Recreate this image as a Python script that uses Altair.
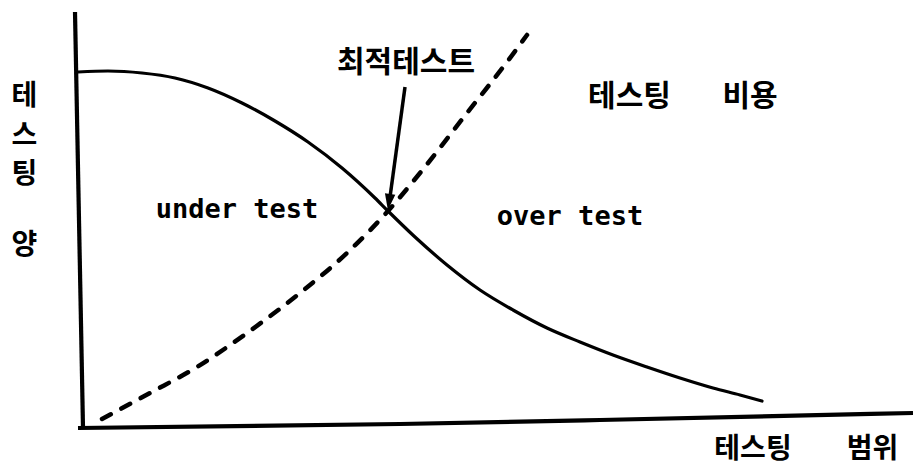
import altair as alt
import pandas as pd

# Conceptual chart: x = testing range, y = testing amount (arbitrary units, origin at axis corner)
solid_x = [-0.25, 3.5, 7.75, 11.875, 16.0, 20.25, 24.375, 28.5, 32.75, 36.875, 38.5,
           41.875, 45.875, 50.0, 54.125, 58.375, 62.5, 66.625, 70.875, 75.0, 79.125, 82.5, 85.25]
solid_y = [88.75, 89.0, 88.5, 87.25, 84.75, 81.0, 76.5, 71.25, 64.75, 57.25, 54.0,
           47.5, 40.5, 34.25, 29.25, 24.75, 21.25, 18.0, 15.0, 12.25, 9.75, 8.0, 6.5]

dash_x = [2.75, 8.75, 14.625, 20.875, 27.5, 33.375, 38.5, 42.5, 48.375, 53.375, 55.875]
dash_y = [2.0, 8.5, 15.0, 23.5, 33.5, 43.5, 54.0, 63.5, 78.5, 91.25, 98.0]

yaxis_x = [-0.625, 0.375]
yaxis_y = [103.75, -0.25]
xaxis_x = [-0.25, 40.0, 65.0, 104.125]
xaxis_y = [-0.25, 0.75, 1.75, 3.5]

arrow_x = [40.625, 38.75]
arrow_y = [85.0, 57.5]
head_x = [38.625]
head_y = [56.25]

kor_labels = ["최적테스트", "테스팅", "비용", "테스팅", "범위", "테", "스", "팅", "양"]
kor_x = [40.75, 68.69, 83.75, 84.125, 99.06, -6.94, -6.94, -6.94, -6.94]
kor_y = [91.1, 82.5, 82.5, -5.75, -5.75, 82.4, 72.5, 63.1, 45.25]
kor_size = [30, 30, 30, 28, 28, 28, 28, 28, 28]

eng_labels = ["under test", "over test"]
eng_x = [19.625, 61.25]
eng_y = [52.25, 50.5]

XD = [-9.0, 104.125]
YD = [-10.0, 104.75]
xs = alt.Scale(domain=XD, nice=False, zero=False)
ys = alt.Scale(domain=YD, nice=False, zero=False)

def line_df(xv, yv):
    return pd.DataFrame({"x": xv, "y": yv, "o": list(range(len(xv)))})

def enc(m):
    return m.encode(
        x=alt.X("x:Q", scale=xs, axis=None),
        y=alt.Y("y:Q", scale=ys, axis=None),
        order="o:Q",
    )

solid = enc(alt.Chart(line_df(solid_x, solid_y)).mark_line(
    color="black", strokeWidth=3.2, interpolate="monotone", strokeCap="round"))
dashed = enc(alt.Chart(line_df(dash_x, dash_y)).mark_line(
    color="black", strokeWidth=4.5, interpolate="monotone", strokeDash=[10, 12], strokeCap="round"))
yaxis = enc(alt.Chart(line_df(yaxis_x, yaxis_y)).mark_line(color="black", strokeWidth=4.2))
xaxis = enc(alt.Chart(line_df(xaxis_x, xaxis_y)).mark_line(color="black", strokeWidth=4.2, interpolate="monotone"))
arrow = enc(alt.Chart(line_df(arrow_x, arrow_y)).mark_line(color="black", strokeWidth=3.5))
head = alt.Chart(pd.DataFrame({"x": head_x, "y": head_y})).mark_point(
    shape="M -0.65 -1 L 0.65 -1 L 0 1 Z", size=260, filled=True, color="black",
    opacity=1, angle=8).encode(
    x=alt.X("x:Q", scale=xs, axis=None), y=alt.Y("y:Q", scale=ys, axis=None))

kdf = pd.DataFrame({"x": kor_x, "y": kor_y, "t": kor_labels, "s": kor_size})
ktext = alt.Chart(kdf).mark_text(
    font="Noto Sans CJK KR", fontWeight="bold", color="black", align="center", baseline="middle"
).encode(
    x=alt.X("x:Q", scale=xs, axis=None), y=alt.Y("y:Q", scale=ys, axis=None),
    text="t:N", size=alt.Size("s:Q", scale=None, legend=None))

edf = pd.DataFrame({"x": eng_x, "y": eng_y, "t": eng_labels})
etext = alt.Chart(edf).mark_text(
    font="DejaVu Sans Mono", fontWeight="bold", fontSize=27, color="black",
    align="center", baseline="alphabetic"
).encode(x=alt.X("x:Q", scale=xs, axis=None), y=alt.Y("y:Q", scale=ys, axis=None), text="t:N")

chart = alt.layer(yaxis, xaxis, solid, dashed, arrow, head, ktext, etext).properties(
    width=905, height=459, autosize=alt.AutoSizeParams(type="none"), padding=0,
    background="white"
).configure_view(stroke=None)

chart.save("out.html", embed_options={"renderer": "svg", "actions": False})
